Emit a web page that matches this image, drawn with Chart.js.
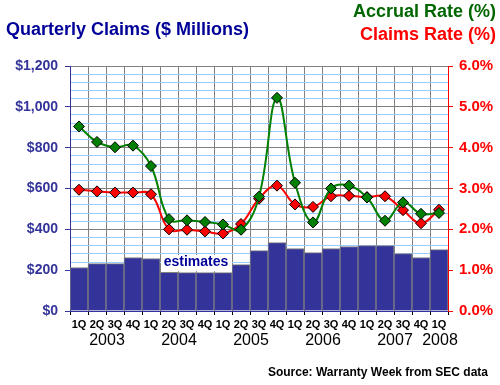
<!DOCTYPE html>
<html>
<head>
<meta charset="utf-8">
<script src="https://cdn.jsdelivr.net/npm/chart.js@4"></script>
<style>
  html, body { margin: 0; padding: 0; background: #fff; }
  #wrap { width: 500px; height: 385px; }
</style>
</head>
<body>
<div id="wrap"><canvas id="chart" width="500" height="385"></canvas></div>
<script>
// Quarterly warranty claims with accrual and claims rates, 1Q 2003 - 1Q 2008
const quarters = ['1Q','2Q','3Q','4Q','1Q','2Q','3Q','4Q','1Q','2Q','3Q','4Q',
                  '1Q','2Q','3Q','4Q','1Q','2Q','3Q','4Q','1Q'];
const years = ['2003','2004','2005','2006','2007','2008'];
const claims = [213, 232, 232, 262, 257, 190, 188, 188, 188, 227, 296, 335,
                306, 286, 306, 316, 320, 320, 281, 262, 301];
const accrualRate = [4.52, 4.14, 4.01, 4.05, 3.55, 2.25, 2.22, 2.18, 2.12, 1.99, 2.80, 5.22,
                     3.14, 2.17, 3.00, 3.07, 2.78, 2.21, 2.66, 2.38, 2.40];
const claimsRate = [2.97, 2.93, 2.90, 2.90, 2.86, 2.00, 1.99, 1.95, 1.90, 2.13, 2.75, 3.07,
                    2.61, 2.55, 2.81, 2.82, 2.79, 2.81, 2.47, 2.15, 2.48];
const estimateRange = [5, 8]; // quarters marked as estimates

const FONT = "Arial, 'Liberation Sans', sans-serif";
const NAVY = '#333399';

// titles, year labels, note and source
const textPlugin = {
    id: 'texts',
    afterDraw(chart) {
        const ctx = chart.ctx;
        const x = chart.scales.x;
        const y = chart.scales.y;
        ctx.save();

        // estimates box
        const half = (x.getPixelForValue(1) - x.getPixelForValue(0)) / 2;
        const bx0 = x.getPixelForValue(estimateRange[0]) - half;
        const bx1 = x.getPixelForValue(estimateRange[1]) + half;
        const by0 = y.getPixelForValue(274);
        const by1 = y.getPixelForValue(195);
        ctx.fillStyle = '#fff';
        ctx.fillRect(bx0 + 1, by0, bx1 - bx0 - 1, by1 - by0);
        ctx.fillStyle = '#000099';
        ctx.font = 'bold 14px ' + FONT;
        ctx.textAlign = 'center';
        ctx.textBaseline = 'middle';
        ctx.fillText('estimates', (bx0 + bx1) / 2, (by0 + by1) / 2 - 1);

        // titles
        ctx.font = 'bold 18px ' + FONT;
        ctx.textAlign = 'left';
        ctx.fillStyle = '#000099';
        ctx.fillText('Quarterly Claims ($ Millions)', 6, 30);
        ctx.textAlign = 'right';
        ctx.fillStyle = '#006600';
        ctx.fillText('Accrual Rate (%)', 496, 12);
        ctx.fillStyle = '#ff0000';
        ctx.fillText('Claims Rate (%)', 496, 35);

        // year labels centred under their quarters
        ctx.font = '16px ' + FONT;
        ctx.textAlign = 'center';
        ctx.fillStyle = '#000';
        years.forEach((yr, i) => {
            const first = i * 4;
            const last = Math.min(first + 3, quarters.length - 1);
            const cx = (x.getPixelForValue(first) + x.getPixelForValue(last)) / 2;
            ctx.fillText(yr, cx + 1, 341);
        });

        ctx.font = 'bold 12px ' + FONT;
        ctx.textAlign = 'right';
        ctx.fillText('Source: Warranty Week from SEC data', 488, 373);
        ctx.restore();
    }
};

const isWhole = v => Math.abs(v - Math.round(v)) < 1e-6;

new Chart(document.getElementById('chart').getContext('2d'), {
    data: {
        labels: quarters,
        datasets: [
            {
                type: 'line', label: 'Accrual Rate', data: accrualRate, yAxisID: 'y1', order: 1,
                borderColor: '#008000', borderWidth: 2, tension: 0.4,
                pointStyle: 'rectRot', pointRadius: 5.5, pointBackgroundColor: '#008000',
                pointBorderColor: '#000', pointBorderWidth: 1
            },
            {
                type: 'line', label: 'Claims Rate', data: claimsRate, yAxisID: 'y1', order: 2,
                borderColor: '#ff0000', borderWidth: 2, tension: 0.4,
                pointStyle: 'rectRot', pointRadius: 5.5, pointBackgroundColor: '#ff0000',
                pointBorderColor: '#000', pointBorderWidth: 1
            },
            {
                type: 'bar', label: 'Claims', data: claims, yAxisID: 'y', order: 3,
                backgroundColor: NAVY, borderColor: '#808080',
                borderWidth: { top: 1, left: 1, right: 1, bottom: 0 },
                categoryPercentage: 1, barPercentage: 1
            }
        ]
    },
    options: {
        responsive: false,
        animation: false,
        layout: { padding: { top: 66 } },
        plugins: { legend: { display: false }, tooltip: { enabled: false } },
        scales: {
            x: {
                offset: true,
                afterFit: s => { s.height = 74; },
                grid: { color: '#808080', offset: true, tickLength: 4, tickColor: '#000' },
                border: { color: NAVY },
                ticks: {
                    autoSkip: false, maxRotation: 0, padding: 3,
                    color: '#000', font: { family: FONT, size: 11, weight: 'bold' }
                }
            },
            y: {
                position: 'left', min: 0, max: 1200,
                afterFit: s => { s.width = 70; },
                grid: {
                    color: c => c.tick.value % 200 === 0 ? '#808080' : '#99ccff',
                    tickColor: c => c.tick.value % 200 === 0 ? NAVY : 'rgba(0,0,0,0)',
                    tickLength: 5
                },
                border: { color: NAVY },
                ticks: {
                    stepSize: 40, autoSkip: false, padding: 7, color: NAVY,
                    font: { family: FONT, size: 14, weight: 'bold' },
                    callback: v => v % 200 === 0 ? '$' + v.toLocaleString('en-US') : ''
                }
            },
            y1: {
                position: 'right', min: 0, max: 6,
                afterFit: s => { s.width = 52; },
                grid: {
                    drawOnChartArea: false, tickLength: 5,
                    tickColor: c => isWhole(c.tick.value) ? '#ff0000' : 'rgba(0,0,0,0)'
                },
                border: { color: '#ff0000' },
                ticks: {
                    stepSize: 0.2, autoSkip: false, padding: 6, color: '#ff0000',
                    font: { family: FONT, size: 15, weight: 'bold' },
                    callback: v => isWhole(v) ? v.toFixed(1) + '%' : ''
                }
            }
        }
    },
    plugins: [textPlugin]
});
</script>
</body>
</html>
